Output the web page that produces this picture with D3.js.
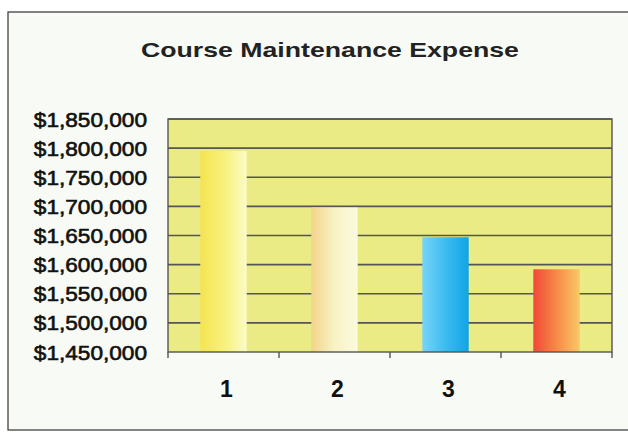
<!DOCTYPE html>
<html><head><meta charset="utf-8">
<script src="https://cdn.jsdelivr.net/npm/d3@7"></script>
<style>body{margin:0;background:#fff}svg{display:block}</style>
</head><body>
<script>
const categories = ["1", "2", "3", "4"];
const values = [1795000, 1698000, 1647000, 1592000];
const yTicks = [1450000, 1500000, 1550000, 1600000, 1650000, 1700000, 1750000, 1800000, 1850000];
const title = "Course Maintenance Expense";
const barGradients = [
  ["#f4e452", "#f8f07a", "#fbfbc8"],
  ["#f3d48a", "#f8f2c4", "#fafade"],
  ["#78d4f8", "#3cbcf0", "#10a4e4"],
  ["#f04838", "#f78a48", "#f8c868"]
];

const W = 628, H = 432;
const FONT = "Liberation Sans, Arial, sans-serif";
const svg = d3.select("body").append("svg").attr("width", W).attr("height", H);
const defs = svg.append("defs");

svg.append("rect").attr("width", W).attr("height", H).attr("fill", "#ffffff");
svg.append("rect").attr("x", 8).attr("y", 12).attr("width", 640).attr("height", 418)
  .attr("fill", "#f8fbf5").attr("stroke", "#333").attr("stroke-width", 1.2);

const m = {left: 168, right: 612, top: 119, bottom: 352};
const x = d3.scaleBand().domain(categories).range([m.left, m.right]).paddingInner(0.6).paddingOuter(0.3);
const xb = d3.scaleBand().domain(categories).range([m.left, m.right]);
const y = d3.scaleLinear().domain([1450000, 1850000]).range([m.bottom, m.top]);

svg.append("rect").attr("x", m.left).attr("y", m.top).attr("width", m.right - m.left).attr("height", m.bottom - m.top)
  .attr("fill", "#eaeb84");

// gridlines
svg.append("g").selectAll("line").data(yTicks.slice(1)).join("line")
  .attr("x1", m.left).attr("x2", m.right).attr("y1", d => y(d)).attr("y2", d => y(d))
  .attr("stroke", "#555").attr("stroke-width", 1.6);

// gradients
barGradients.forEach((g, i) => {
  const lg = defs.append("linearGradient").attr("id", "g" + i).attr("x1", "0").attr("x2", "1").attr("y1", "0").attr("y2", "0");
  g.forEach((c, j) => lg.append("stop").attr("offset", j / (g.length - 1)).attr("stop-color", c));
});

svg.append("g").selectAll("rect").data(values).join("rect")
  .attr("x", (d, i) => x(categories[i]) - 1).attr("width", x.bandwidth() + 2)
  .attr("y", d => y(d)).attr("height", d => y(1450000) - y(d))
  .attr("fill", (d, i) => `url(#g${i})`);

// plot border
svg.append("rect").attr("x", m.left).attr("y", m.top).attr("width", m.right - m.left).attr("height", m.bottom - m.top)
  .attr("fill", "none").attr("stroke", "#555").attr("stroke-width", 1.4);

// x axis
const xAxis = d3.axisBottom(xb).tickSize(0).tickPadding(30);
const gx = svg.append("g").attr("transform", `translate(0,${m.bottom})`).call(xAxis);
gx.select(".domain").remove();
gx.attr("font-size", null).attr("font-family", null);
gx.selectAll("text").style("font-family", FONT).style("font-size", "23px")
  .style("font-weight", "bold").attr("fill", "#111").attr("dx", 3).attr("y", 29).attr("dy", "0.71em");
svg.append("g").selectAll("line").data(categories.concat(["end"])).join("line")
  .attr("x1", d => d === "end" ? m.right : xb(d)).attr("x2", d => d === "end" ? m.right : xb(d))
  .attr("y1", m.bottom).attr("y2", m.bottom + 6).attr("stroke", "#555").attr("stroke-width", 1.4);

// y axis labels
const fmt = d3.format("$,");
const yAxis = d3.axisLeft(y).tickValues(yTicks).tickFormat(fmt).tickSize(0).tickPadding(0);
const gy = svg.append("g").attr("transform", `translate(147,0)`).call(yAxis);
gy.select(".domain").remove();
gy.attr("font-size", null).attr("font-family", null);
gy.selectAll("text").style("font-family", FONT).style("font-size", "19.5px")
  .attr("fill", "#111").attr("stroke", "#111").attr("stroke-width", 0.6)
  .attr("transform", "scale(1.16,1)").attr("x", 0).attr("dy", "0.36em");

// title
svg.append("text").attr("x", 330).attr("y", 57).attr("text-anchor", "middle")
  .style("font-family", FONT).style("font-size", "21px").style("font-weight", "bold")
  .attr("fill", "#222").attr("transform", "translate(330,0) scale(1.27,1) translate(-330,0)")
  .text(title);
</script>
</body></html>
